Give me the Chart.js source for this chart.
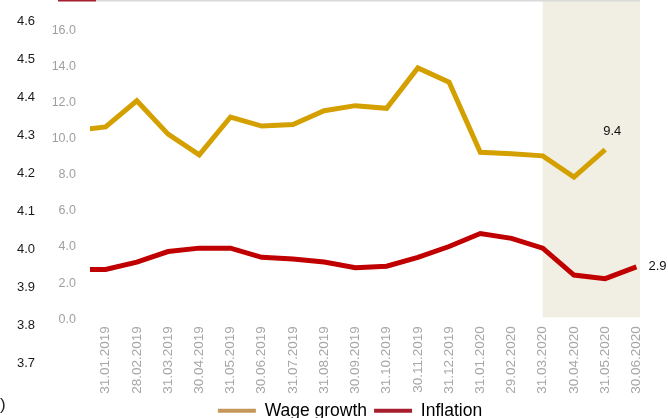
<!DOCTYPE html>
<html>
<head>
<meta charset="utf-8">
<script src="https://cdn.jsdelivr.net/npm/chart.js@4.4.1/dist/chart.umd.min.js"></script>
<style>
  html, body { margin: 0; padding: 0; background: #fff; }
  #wrap { width: 668px; height: 418px; }
</style>
</head>
<body>
<div id="wrap"><canvas id="myChart" width="668" height="418"></canvas></div>
<script>
// month-end dates, first one only feeds the line entering from the left edge
const months = ['31.12.2018', '31.01.2019', '28.02.2019', '31.03.2019', '30.04.2019', '31.05.2019',
  '30.06.2019', '31.07.2019', '31.08.2019', '30.09.2019', '31.10.2019', '30.11.2019',
  '31.12.2019', '31.01.2020', '29.02.2020', '31.03.2020', '30.04.2020', '31.05.2020', '30.06.2020']

const wageGrowth = [10.45, 10.65, 12.1, 10.25, 9.1, 11.2, 10.7, 10.78, 11.55, 11.83, 11.68, 13.92,
  13.13, 9.25, 9.16, 9.05, 7.87, 9.4, null]
const inflation = [2.76, 2.76, 3.16, 3.75, 3.94, 3.94, 3.43, 3.34, 3.17, 2.85, 2.94, 3.43,
  4.03, 4.75, 4.48, 3.94, 2.45, 2.25, 2.9]

const leftTicks = [3.7, 3.8, 3.9, 4.0, 4.1, 4.2, 4.3, 4.4, 4.5, 4.6]
const rightTicks = [0, 2, 4, 6, 8, 10, 12, 14, 16]

const shadeFrom = '31.03.2020'

const font = '"Liberation Sans", Arial, sans-serif'
const toPoints = arr => arr.map((v, i) => ({ x: i, y: v }))

// beige band over the latest months, plus the thin header rule
const shadePlugin = {
  id: 'shade',
  afterLayout(chart) {
    // nudge the legend a bit left of the plot centre
    chart.legend.left -= 15
    chart.legend.right -= 15
  },
  beforeDatasetsDraw(chart) {
    const { ctx, chartArea, scales } = chart
    const x0 = scales.x.getPixelForValue(months.indexOf(shadeFrom))
    const yb = scales.y2.getPixelForValue(0)
    ctx.save()
    ctx.fillStyle = '#f1eee3'
    ctx.fillRect(x0, 0, chartArea.right - x0, yb - 2)
    ctx.fillStyle = '#d9d9d9'
    ctx.fillRect(96, 0, chartArea.right - 96, 1.5)
    ctx.fillStyle = '#a61e2d'
    ctx.fillRect(58, 0, 38, 1.5)
    ctx.fillStyle = '#222'
    ctx.font = '17px ' + font
    ctx.textBaseline = 'middle'
    ctx.fillText(')', 0, 405)
    ctx.restore()
  }
}

// value next to the last point of each line
const endLabels = {
  id: 'endLabels',
  afterDatasetsDraw(chart) {
    const { ctx, scales } = chart
    ctx.save()
    ctx.font = '13px ' + font
    ctx.fillStyle = '#111'
    ctx.textBaseline = 'middle'
    chart.data.datasets.forEach(ds => {
      let i = ds.data.length - 1
      while (i >= 0 && ds.data[i].y == null) i--
      const px = scales.x.getPixelForValue(ds.data[i].x)
      const py = scales.y2.getPixelForValue(ds.data[i].y)
      const o = ds.labelOffset
      ctx.textAlign = o.align
      ctx.fillText(ds.data[i].y.toFixed(1), px + o.dx, py + o.dy)
    })
    ctx.restore()
  }
}

const ctx = document.getElementById('myChart').getContext('2d')

const myChart = new Chart(ctx, {
  type: 'line',
  data: {
    datasets: [{
      label: 'Wage growth',
      data: toPoints(wageGrowth),
      borderColor: '#d4a000',
      legendColor: '#c4975a',
      borderWidth: 5,
      pointRadius: 0,
      spanGaps: false,
      yAxisID: 'y2',
      labelOffset: { dx: 7, dy: -18, align: 'center' }
    }, {
      label: 'Inflation',
      data: toPoints(inflation),
      borderColor: '#c00000',
      legendColor: '#a61e2d',
      borderWidth: 5,
      pointRadius: 0,
      yAxisID: 'y2',
      labelOffset: { dx: 12, dy: 0, align: 'left' }
    }]
  },
  options: {
    responsive: false,
    animation: false,
    layout: { padding: { top: 16, right: 28, left: 0, bottom: -11.5 } },
    scales: {
      x: {
        type: 'linear',
        min: 0.5,
        max: 18.115,
        position: { y2: 0 },
        grid: { display: false, drawTicks: false },
        border: { display: false },
        afterBuildTicks: s => { s.ticks = months.slice(1).map((_, i) => ({ value: i + 1 })) },
        ticks: {
          autoSkip: false,
          minRotation: 90,
          maxRotation: 90,
          padding: 7,
          color: '#a6a6a6',
          font: { family: font, size: 13.5 },
          callback: v => months[v]
        }
      },
      gap: {
        axis: 'x',
        type: 'linear',
        position: 'bottom',
        grid: { display: false, drawTicks: false },
        border: { display: false },
        ticks: { display: false },
        afterFit: s => { s.height = 31.5 }
      },
      y: {
        type: 'linear',
        position: 'left',
        weight: 10,
        min: 3.7,
        max: 4.6,
        grid: { display: false, drawTicks: false },
        border: { display: false },
        afterBuildTicks: s => { s.ticks = leftTicks.map(v => ({ value: v })) },
        afterFit: s => { s.width = 40 },
        ticks: {
          padding: 5,
          color: '#1a1a1a',
          font: { family: font, size: 13 },
          callback: v => v.toFixed(1)
        }
      },
      y2: {
        type: 'linear',
        position: 'left',
        weight: 0,
        min: -2.449,
        max: 16.49,
        grid: { display: false, drawTicks: false },
        border: { display: false },
        afterBuildTicks: s => { s.ticks = rightTicks.map(v => ({ value: v })) },
        afterFit: s => { s.width = 50 },
        ticks: {
          padding: 14,
          color: '#a0a0a0',
          font: { family: font, size: 12.5 },
          callback: v => v.toFixed(1)
        }
      }
    },
    plugins: {
      tooltip: { enabled: false },
      legend: {
        position: 'bottom',
        fullSize: false,
        labels: {
          boxWidth: 38,
          boxHeight: 4,
          padding: 7,
          color: '#111',
          font: { family: font, size: 17.5 },
          generateLabels: chart => chart.data.datasets.map((ds, i) => ({
            text: ds.label,
            fillStyle: ds.legendColor,
            strokeStyle: ds.legendColor,
            lineWidth: 0,
            datasetIndex: i
          }))
        }
      }
    }
  },
  plugins: [shadePlugin, endLabels]
})
</script>
</body>
</html>
